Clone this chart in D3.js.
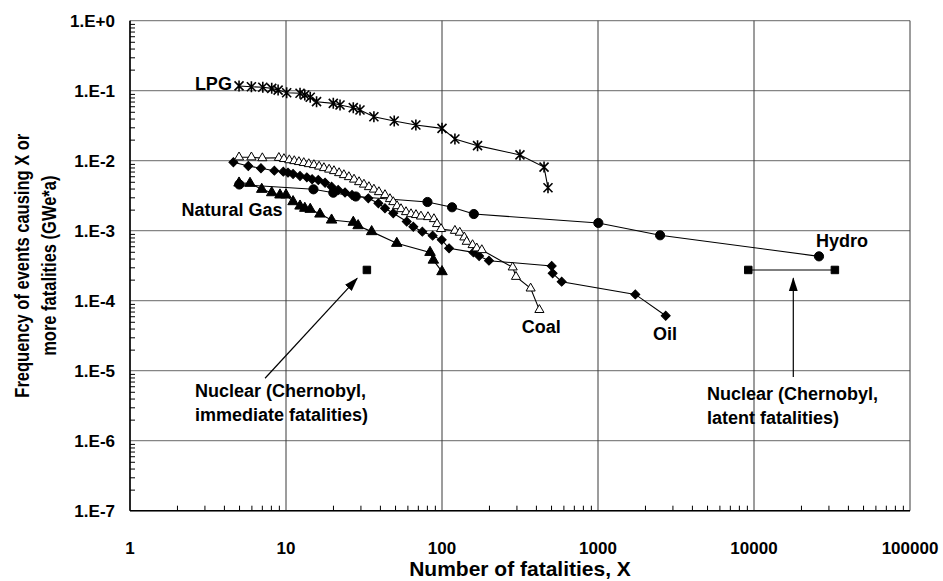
<!DOCTYPE html>
<html>
<head>
<meta charset="utf-8">
<script src="https://cdn.jsdelivr.net/npm/d3@7"></script>
<style>
  body { margin: 0; background: #fff; }
  svg text { font-family: "Liberation Sans", Arial, sans-serif; font-weight: bold; fill: #000; }
</style>
</head>
<body>
<svg id="mainsvg" width="943" height="581"></svg>
<script>
// number of fatalities X and frequency (per GWe*a) of events causing >= X fatalities
var lpgX = [5.0, 6.0, 7.1, 8.1, 8.9, 10.1, 12.3, 13.2, 14.3, 15.7, 20.1, 22.2, 27, 29.8, 36.6, 49.4, 68, 100, 121, 169, 316, 451, 478];
var lpgF = [0.117, 0.114, 0.112, 0.108, 0.102, 0.0936, 0.0918, 0.0868, 0.0805, 0.0697, 0.066, 0.0625, 0.0572, 0.053, 0.0425, 0.0369, 0.0324, 0.029, 0.0204, 0.0164, 0.0121, 0.0081, 0.0041];

var coalX = [5.0, 6.0, 7.05, 9.0, 9.7, 10.5, 11.3, 12.1, 13.0, 14.0, 15.1, 16.3, 17.5, 18.9, 20.3, 21.9, 23.5, 25.3, 27.3, 29.4, 31.6, 34.0, 36.6, 39.4, 43.1, 46.4, 48.7, 51.5, 54.6, 58.8, 63.3, 68.1, 73.3, 81.3, 88.8, 92.9, 98.6, 121, 130, 139, 144, 157, 167, 180, 284, 298, 370, 421];
var coalF = [0.0112, 0.0112, 0.0109, 0.011, 0.0106, 0.0102, 0.0099, 0.0096, 0.0093, 0.00897, 0.00869, 0.00827, 0.00787, 0.00749, 0.00713, 0.00667, 0.00625, 0.00585, 0.00539, 0.00496, 0.00457, 0.00421, 0.00388, 0.00357, 0.00324, 0.00284, 0.00257, 0.00225, 0.00204, 0.00185, 0.00173, 0.00168, 0.0016, 0.00157, 0.00147, 0.00125, 0.00106, 0.001, 0.00094, 0.000805, 0.000697, 0.000625, 0.000561, 0.00053, 0.0003, 0.00022, 0.00015, 0.000074];

var oilX = [4.6, 5.73, 6.91, 8.42, 9.61, 10.3, 11.1, 12.3, 13.6, 14.7, 16.1, 17.8, 19.6, 21.6, 23.9, 26.5, 33.7, 39.1, 43.1, 48.7, 59.4, 65.5, 74.8, 87.1, 99.6, 111, 159, 173, 200, 505, 512, 585, 1735, 2717];
var oilF = [0.0095, 0.0084, 0.00779, 0.0072, 0.00697, 0.00674, 0.00646, 0.00604, 0.00579, 0.00543, 0.0053, 0.00485, 0.00425, 0.00381, 0.00351, 0.00324, 0.0029, 0.00246, 0.00209, 0.00177, 0.00135, 0.00114, 0.00097, 0.00085, 0.00074, 0.00056, 0.00049, 0.000435, 0.000373, 0.000313, 0.000246, 0.000187, 0.000123, 0.000061];

var gasX = [5.0, 5.88, 6.99, 8.1, 9.15, 10, 11.1, 12.3, 13.2, 14.3, 16.5, 19.6, 27, 29, 35.4, 51.3, 83.8, 88, 100];
var gasF = [0.0048, 0.00475, 0.0039, 0.00349, 0.00324, 0.00324, 0.0026, 0.00225, 0.00209, 0.00202, 0.00173, 0.00142, 0.00132, 0.00118, 0.00097, 0.00066, 0.00049, 0.00038, 0.00026];

var hydroX = [5.02, 15.0, 20.1, 28, 80.7, 116, 160, 1005, 2500, 26100];
var hydroF = [0.00457, 0.0039, 0.00349, 0.00308, 0.00257, 0.00216, 0.00173, 0.00129, 0.00086, 0.00043];

var nuclearImmX = [33];
var nuclearImmF = [0.000275];
var nuclearLatX = [9190, 33000];
var nuclearLatF = [0.000275, 0.000275];

var xTickValues = [1, 10, 100, 1000, 10000, 100000];
var xTickLabels = ["1", "10", "100", "1000", "10000", "100000"];
var yTickValues = [1, 1e-1, 1e-2, 1e-3, 1e-4, 1e-5, 1e-6, 1e-7];
var yTickLabels = ["1.E+0", "1.E-1", "1.E-2", "1.E-3", "1.E-4", "1.E-5", "1.E-6", "1.E-7"];

// labels: [x, f, lines]
var seriesLabels = [
  { x: 4.5, f: 0.1025, anchor: "end", lines: ["LPG"] },
  { x: 2.14, f: 0.00162, anchor: "start", lines: ["Natural Gas"] },
  { x: 24970, f: 0.000585, anchor: "start", lines: ["Hydro"] },
  { x: 324, f: 0.0000346, anchor: "start", lines: ["Coal"] },
  { x: 2252, f: 0.0000275, anchor: "start", lines: ["Oil"] },
  { x: 2.61, f: 0.0000042, anchor: "start", lines: ["Nuclear (Chernobyl,", "immediate fatalities)"] },
  { x: 5000, f: 0.00000381, anchor: "start", lines: ["Nuclear (Chernobyl,", "latent fatalities)"] }
];
// arrows: from (x1,f1) to tip (x2,f2)
var arrows = [
  { x1: 7.34, f1: 0.0000078, x2: 28.6, f2: 0.000209 },
  { x1: 17860, f1: 0.0000081, x2: 17860, f2: 0.000209 }
];

var margin = { left: 130, top: 20.7 };
var w = 780, h = 490;

var svg = d3.select("#mainsvg");
var x = d3.scaleLog().domain([1, 1e5]).range([margin.left, margin.left + w]);
var y = d3.scaleLog().domain([1e-7, 1]).range([margin.top + h, margin.top]);

function zip(xs, fs) {
  return xs.map(function (d, i) {
    return { x: d, f: fs[i] };
  });
}

// minor tick values 2..9 of each decade
function minors(lo, hi) {
  var out = [];
  for (var e = lo; e < hi; e++) {
    for (var k = 2; k <= 9; k++) out.push(k * Math.pow(10, e));
  }
  return out;
}

var grid = svg.append("g").attr("class", "grid");
grid.selectAll("line.h")
  .data(yTickValues)
  .enter()
  .append("line")
  .attr("class", "h")
  .attr("x1", x(1))
  .attr("x2", x(1e5))
  .attr("y1", function (d) { return y(d); })
  .attr("y2", function (d) { return y(d); })
  .attr("stroke", "#858585")
  .attr("stroke-width", 1.3);
grid.selectAll("line.v")
  .data(xTickValues)
  .enter()
  .append("line")
  .attr("class", "v")
  .attr("x1", function (d) { return x(d); })
  .attr("x2", function (d) { return x(d); })
  .attr("y1", y(1))
  .attr("y2", y(1e-7))
  .attr("stroke", "#3a3a3a")
  .attr("stroke-width", 1);

// axes with inside minor ticks
var axes = svg.append("g").attr("class", "axes");
axes.append("g")
  .attr("transform", "translate(0," + y(1e-7) + ")")
  .call(d3.axisTop(x).tickValues(minors(0, 5)).tickSize(5).tickFormat(""))
  .call(function (g) { g.select(".domain").remove(); });
axes.append("g")
  .attr("transform", "translate(" + x(1) + ",0)")
  .call(d3.axisRight(y).tickValues(minors(-7, 0)).tickSize(5).tickFormat(""))
  .call(function (g) { g.select(".domain").remove(); });
axes.selectAll(".tick line").attr("stroke", "#000").attr("stroke-width", 1);
axes.append("line")
  .attr("x1", x(1)).attr("x2", x(1e5))
  .attr("y1", y(1e-7)).attr("y2", y(1e-7))
  .attr("stroke", "#000").attr("stroke-width", 1.5);
axes.append("line")
  .attr("x1", x(1)).attr("x2", x(1))
  .attr("y1", y(1)).attr("y2", y(1e-7))
  .attr("stroke", "#000").attr("stroke-width", 1.5);

// tick labels
svg.append("g")
  .selectAll("text")
  .data(xTickValues)
  .enter()
  .append("text")
  .attr("x", function (d) { return x(d); })
  .attr("y", y(1e-7) + 43)
  .attr("text-anchor", "middle")
  .style("font-size", "17px")
  .text(function (d, i) { return xTickLabels[i]; });
svg.append("g")
  .selectAll("text")
  .data(yTickValues)
  .enter()
  .append("text")
  .attr("x", x(1) - 15)
  .attr("y", function (d) { return y(d) + 6; })
  .attr("text-anchor", "end")
  .style("font-size", "17px")
  .text(function (d, i) { return yTickLabels[i]; });

// axis titles
svg.append("text")
  .attr("x", x(1) + w / 2)
  .attr("y", 576)
  .attr("text-anchor", "middle")
  .style("font-size", "21px")
  .text("Number of fatalities, X");
// the vertical title is drawn taller than it is long, as in the source image
var yTitle = svg.append("text")
  .attr("transform", "translate(0," + (margin.top + h / 2) + ") rotate(-90) scale(1,1.22)")
  .attr("text-anchor", "middle")
  .style("font-size", "16.5px");
yTitle.append("tspan").attr("x", 0).attr("y", 24).text("Frequency of events causing X or");
yTitle.append("tspan").attr("x", 0).attr("y", 46).text("more fatalities (GWe*a)");

// series lines
var line = d3.line()
  .x(function (d) { return x(d.x); })
  .y(function (d) { return y(d.f); });

var series = [
  { name: "hydro", data: zip(hydroX, hydroF) },
  { name: "oil", data: zip(oilX, oilF) },
  { name: "gas", data: zip(gasX, gasF) },
  { name: "coal", data: zip(coalX, coalF) },
  { name: "lpg", data: zip(lpgX, lpgF) },
  { name: "nucLat", data: zip(nuclearLatX, nuclearLatF) },
  { name: "nucImm", data: zip(nuclearImmX, nuclearImmF) }
];

var plot = svg.append("g").attr("class", "series");
plot.selectAll("path.line")
  .data(series)
  .enter()
  .append("path")
  .attr("class", "line")
  .attr("d", function (d) { return line(d.data); })
  .attr("fill", "none")
  .attr("stroke", "#000")
  .attr("stroke-width", 1.1);

var starPath = "M0,-5.5L0,5.5M-4.5,-4.5L4.5,4.5M-4.5,4.5L4.5,-4.5";
var markers = {
  hydro: { path: d3.symbol().type(d3.symbolCircle).size(66)(), fill: "#000" },
  oil: { path: d3.symbol().type(d3.symbolSquare).size(40)(), fill: "#000", rotate: 45 },
  gas: { path: d3.symbol().type(d3.symbolTriangle).size(48)(), fill: "#000" },
  coal: { path: d3.symbol().type(d3.symbolTriangle).size(36)(), fill: "#fff" },
  lpg: { path: starPath, fill: "none" },
  nucLat: { path: d3.symbol().type(d3.symbolSquare).size(56)(), fill: "#000" },
  nucImm: { path: d3.symbol().type(d3.symbolSquare).size(56)(), fill: "#000" }
};

series.forEach(function (s) {
  var m = markers[s.name];
  plot.append("g")
    .attr("class", "pts-" + s.name)
    .selectAll("path")
    .data(s.data)
    .enter()
    .append("path")
    .attr("transform", function (d) {
      return "translate(" + x(d.x) + "," + y(d.f) + ")" + (m.rotate ? " rotate(" + m.rotate + ")" : "");
    })
    .attr("d", m.path)
    .attr("fill", m.fill)
    .attr("stroke", "#000")
    .attr("stroke-width", s.name == "lpg" ? 1.6 : 1);
});

// arrows
var defs = svg.append("defs");
defs.append("marker")
  .attr("id", "arrowHead")
  .attr("markerUnits", "userSpaceOnUse")
  .attr("markerWidth", 14)
  .attr("markerHeight", 14)
  .attr("viewBox", "0 0 14 14")
  .attr("refX", 13)
  .attr("refY", 7)
  .attr("orient", "auto")
  .append("path")
  .attr("d", "M0,2.5 L14,7 L0,11.5 Z")
  .attr("fill", "#000");

svg.append("g")
  .selectAll("line")
  .data(arrows)
  .enter()
  .append("line")
  .attr("x1", function (d) { return x(d.x1); })
  .attr("y1", function (d) { return y(d.f1); })
  .attr("x2", function (d) { return x(d.x2); })
  .attr("y2", function (d) { return y(d.f2); })
  .attr("stroke", "#000")
  .attr("stroke-width", 1.2)
  .attr("marker-end", "url(#arrowHead)");

// series labels
var lab = svg.append("g")
  .selectAll("text")
  .data(seriesLabels)
  .enter()
  .append("text")
  .attr("text-anchor", function (d) { return d.anchor; })
  .style("font-size", "18px");
lab.each(function (d) {
  var t = d3.select(this);
  d.lines.forEach(function (s, i) {
    t.append("tspan")
      .attr("x", x(d.x))
      .attr("y", y(d.f) + i * 24)
      .text(s);
  });
});
</script>
</body>
</html>
